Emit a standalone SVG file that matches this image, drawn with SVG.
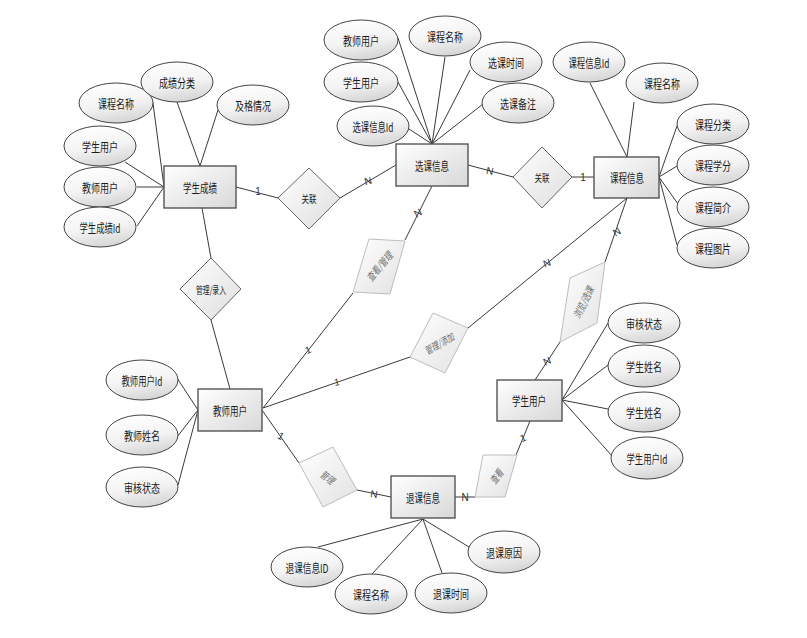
<svg xmlns="http://www.w3.org/2000/svg" width="807" height="638" viewBox="0 0 807 638">
<defs>
<linearGradient id="gEnt" x1="0" y1="0" x2="1" y2="1">
<stop offset="0" stop-color="#ffffff"/><stop offset="1" stop-color="#d8d8d8"/>
</linearGradient>
<linearGradient id="gEll" x1="0.3" y1="0" x2="0.6" y2="1">
<stop offset="0" stop-color="#ffffff"/><stop offset="0.55" stop-color="#f3f3f3"/><stop offset="1" stop-color="#d4d4d4"/>
</linearGradient>
<linearGradient id="gRel" x1="0" y1="0" x2="1" y2="1">
<stop offset="0" stop-color="#ffffff"/><stop offset="1" stop-color="#dedede"/>
</linearGradient>
<linearGradient id="gSk" x1="0" y1="0" x2="1" y2="1">
<stop offset="0" stop-color="#ffffff"/><stop offset="1" stop-color="#e2e2e2"/>
</linearGradient>
<style>
.ent{fill:url(#gEnt);stroke:#555;stroke-width:1.4}
.ell{fill:url(#gEll);stroke:#444;stroke-width:1}
.rel{fill:url(#gRel);stroke:#666;stroke-width:1}
.sk{fill:url(#gSk);stroke:#bdbdbd;stroke-width:1}
.t{font-family:"Noto Sans CJK SC","Liberation Sans",sans-serif;font-size:12px;fill:#1a1a1a;text-anchor:middle;dominant-baseline:central}
.tr{font-family:"Noto Sans CJK SC","Liberation Sans",sans-serif;font-size:10px;fill:#1a1a1a;text-anchor:middle;dominant-baseline:central}
.ts{font-family:"Noto Sans CJK SC","Liberation Sans",sans-serif;font-size:10px;fill:#6e6e6e;font-style:italic;text-anchor:middle;dominant-baseline:central}
.c{font-family:"Liberation Sans",sans-serif;font-size:10px;fill:#333;text-anchor:middle;dominant-baseline:central}
.ln{stroke:#3a3a3a;stroke-width:1;fill:none}
</style>
</defs>
<rect width="807" height="638" fill="#ffffff"/>
<g id="connectors">
<line class="ln" x1="153" y1="103" x2="164" y2="187"/>
<line class="ln" x1="125" y1="162" x2="164" y2="187"/>
<line class="ln" x1="137" y1="187" x2="164" y2="187"/>
<line class="ln" x1="137" y1="226" x2="164" y2="187"/>
<line class="ln" x1="177" y1="102" x2="200" y2="166"/>
<line class="ln" x1="218" y1="110" x2="200" y2="166"/>
<line class="ln" x1="202" y1="208" x2="211" y2="258"/>
<line class="ln" x1="211" y1="320" x2="230" y2="389"/>
<line class="ln" x1="236" y1="187" x2="278" y2="198"/>
<line class="ln" x1="340" y1="198" x2="396" y2="165"/>
<line class="ln" x1="398" y1="38" x2="432" y2="144"/>
<line class="ln" x1="398" y1="82" x2="432" y2="144"/>
<line class="ln" x1="409" y1="129" x2="432" y2="144"/>
<line class="ln" x1="445" y1="57" x2="432" y2="144"/>
<line class="ln" x1="470" y1="70" x2="432" y2="144"/>
<line class="ln" x1="483" y1="104" x2="432" y2="144"/>
<line class="ln" x1="468" y1="165" x2="513" y2="177"/>
<line class="ln" x1="572" y1="177" x2="594" y2="177"/>
<line class="ln" x1="590" y1="83" x2="627" y2="157"/>
<line class="ln" x1="634" y1="102" x2="627" y2="157"/>
<line class="ln" x1="659" y1="177" x2="677" y2="126"/>
<line class="ln" x1="659" y1="177" x2="677" y2="166"/>
<line class="ln" x1="659" y1="177" x2="678" y2="204"/>
<line class="ln" x1="659" y1="177" x2="677" y2="245"/>
<line class="ln" x1="432" y1="186" x2="405" y2="240"/>
<line class="ln" x1="353" y1="293" x2="263" y2="408"/>
<line class="ln" x1="263" y1="408" x2="410" y2="357"/>
<line class="ln" x1="468" y1="328" x2="627" y2="198"/>
<line class="ln" x1="605" y1="262" x2="627" y2="198"/>
<line class="ln" x1="560" y1="342" x2="535" y2="380"/>
<line class="ln" x1="562" y1="400" x2="608" y2="323"/>
<line class="ln" x1="562" y1="400" x2="608" y2="365"/>
<line class="ln" x1="562" y1="400" x2="608" y2="409"/>
<line class="ln" x1="562" y1="400" x2="613" y2="457"/>
<line class="ln" x1="530" y1="421" x2="516" y2="455"/>
<line class="ln" x1="455" y1="497" x2="475" y2="497"/>
<line class="ln" x1="262" y1="410" x2="299" y2="463"/>
<line class="ln" x1="357" y1="490" x2="391" y2="497"/>
<line class="ln" x1="423" y1="519" x2="318" y2="547"/>
<line class="ln" x1="423" y1="519" x2="372" y2="574"/>
<line class="ln" x1="423" y1="519" x2="442" y2="573"/>
<line class="ln" x1="423" y1="519" x2="469" y2="547"/>
<line class="ln" x1="177" y1="378" x2="198" y2="410"/>
<line class="ln" x1="177" y1="437" x2="198" y2="410"/>
<line class="ln" x1="178" y1="485" x2="198" y2="410"/>
<text class="c" x="258" y="191">1</text>
<text class="c" transform="translate(368,181) rotate(-15)">N</text>
<text class="c" transform="translate(490,171) rotate(10)">N</text>
<text class="c" x="583" y="177">1</text>
<text class="c" transform="translate(418,213) rotate(-30)">N</text>
<text class="c" transform="translate(308,350) rotate(-25)">1</text>
<text class="c" transform="translate(337,382) rotate(-10)">1</text>
<text class="c" transform="translate(547,263) rotate(-20)">N</text>
<text class="c" transform="translate(617,232) rotate(-30)">N</text>
<text class="c" transform="translate(547,361) rotate(-25)">N</text>
<text class="c" transform="translate(523,438) rotate(-25)">1</text>
<text class="c" transform="translate(281,436) rotate(30)">1</text>
<text class="c" transform="translate(374,494) rotate(8)">N</text>
<text class="c" x="465" y="497">N</text>
</g>
<g id="xscj"><rect class="ent" x="164" y="166" width="72" height="42"/><text class="t" x="200" y="187" textLength="34" lengthAdjust="spacingAndGlyphs">学生成绩</text></g>
<g id="xkxx"><rect class="ent" x="396" y="144" width="72" height="42"/><text class="t" x="432" y="165" textLength="34" lengthAdjust="spacingAndGlyphs">选课信息</text></g>
<g id="kcxx"><rect class="ent" x="594" y="157" width="65" height="41"/><text class="t" x="627" y="177" textLength="34" lengthAdjust="spacingAndGlyphs">课程信息</text></g>
<g id="jsyh"><rect class="ent" x="198" y="389" width="64" height="42"/><text class="t" x="230" y="410" textLength="34" lengthAdjust="spacingAndGlyphs">教师用户</text></g>
<g id="xsyh"><rect class="ent" x="497" y="380" width="65" height="41"/><text class="t" x="529" y="400" textLength="34" lengthAdjust="spacingAndGlyphs">学生用户</text></g>
<g id="tkxx"><rect class="ent" x="391" y="476" width="64" height="42"/><text class="t" x="423" y="497" textLength="34" lengthAdjust="spacingAndGlyphs">退课信息</text></g>
<g id="rel-gllr"><polygon class="rel" points="211,258 241,289 211,320 180,289"/><text class="tr" x="211" y="289" textLength="30" lengthAdjust="spacingAndGlyphs">管理/录入</text></g>
<g id="rel-gl1"><polygon class="rel" points="309,168 340,198 309,229 278,198"/><text class="tr" x="309" y="198" textLength="15" lengthAdjust="spacingAndGlyphs">关联</text></g>
<g id="rel-gl2"><polygon class="rel" points="542,147 572,177 542,208 513,177"/><text class="tr" x="542" y="177" textLength="15" lengthAdjust="spacingAndGlyphs">关联</text></g>
<g id="rel-ckgl"><polygon class="sk" points="369,239 405,241 390,294 353,292"/><text class="ts" transform="translate(379,266) rotate(-50)" textLength="34" lengthAdjust="spacingAndGlyphs">查看/管理</text></g>
<g id="rel-gltj"><polygon class="sk" points="433,313 468,328 445,373 410,357"/><text class="ts" transform="translate(439,343) rotate(-29)" textLength="32" lengthAdjust="spacingAndGlyphs">管理/添加</text></g>
<g id="rel-llxk"><polygon class="sk" points="570,278 605,262 597,323 560,342"/><text class="ts" transform="translate(583,302) rotate(-64)" textLength="34" lengthAdjust="spacingAndGlyphs">浏览/选课</text></g>
<g id="rel-ck"><polygon class="sk" points="483,455 517,455 505,497 475,497"/><text class="ts" transform="translate(496,476) rotate(-52)" textLength="15" lengthAdjust="spacingAndGlyphs">查看</text></g>
<g id="rel-gl"><polygon class="sk" points="299,463 333,447 357,490 323,507"/><text class="ts" transform="translate(328,477) rotate(37)" textLength="15" lengthAdjust="spacingAndGlyphs">管理</text></g>
<g id="a-xscj-kcmc"><ellipse class="ell" cx="116" cy="103" rx="37" ry="20"/><text class="t" x="116" y="103" textLength="36" lengthAdjust="spacingAndGlyphs">课程名称</text></g>
<g id="a-xscj-cjfl"><ellipse class="ell" cx="177" cy="82" rx="36" ry="20"/><text class="t" x="177" y="82" textLength="36" lengthAdjust="spacingAndGlyphs">成绩分类</text></g>
<g id="a-xscj-jgqk"><ellipse class="ell" cx="253" cy="105" rx="36" ry="20"/><text class="t" x="253" y="105" textLength="36" lengthAdjust="spacingAndGlyphs">及格情况</text></g>
<g id="a-xscj-xsyh"><ellipse class="ell" cx="100" cy="146" rx="36" ry="20"/><text class="t" x="100" y="146" textLength="36" lengthAdjust="spacingAndGlyphs">学生用户</text></g>
<g id="a-xscj-jsyh"><ellipse class="ell" cx="100" cy="187" rx="36" ry="20"/><text class="t" x="100" y="187" textLength="36" lengthAdjust="spacingAndGlyphs">教师用户</text></g>
<g id="a-xscj-id"><ellipse class="ell" cx="100" cy="227" rx="36" ry="20"/><text class="t" x="100" y="227" textLength="41" lengthAdjust="spacingAndGlyphs">学生成绩Id</text></g>
<g id="a-xkxx-jsyh"><ellipse class="ell" cx="361" cy="40" rx="37" ry="20"/><text class="t" x="361" y="40" textLength="36" lengthAdjust="spacingAndGlyphs">教师用户</text></g>
<g id="a-xkxx-kcmc"><ellipse class="ell" cx="445" cy="36" rx="36" ry="20"/><text class="t" x="445" y="36" textLength="36" lengthAdjust="spacingAndGlyphs">课程名称</text></g>
<g id="a-xkxx-xksj"><ellipse class="ell" cx="506" cy="62" rx="36" ry="20"/><text class="t" x="506" y="62" textLength="36" lengthAdjust="spacingAndGlyphs">选课时间</text></g>
<g id="a-xkxx-xsyh"><ellipse class="ell" cx="361" cy="82" rx="37" ry="20"/><text class="t" x="361" y="82" textLength="36" lengthAdjust="spacingAndGlyphs">学生用户</text></g>
<g id="a-xkxx-xkbz"><ellipse class="ell" cx="518" cy="103" rx="36" ry="20"/><text class="t" x="518" y="103" textLength="36" lengthAdjust="spacingAndGlyphs">选课备注</text></g>
<g id="a-xkxx-id"><ellipse class="ell" cx="373" cy="126" rx="36" ry="20"/><text class="t" x="373" y="126" textLength="41" lengthAdjust="spacingAndGlyphs">选课信息Id</text></g>
<g id="a-kcxx-id"><ellipse class="ell" cx="589" cy="62" rx="36" ry="20"/><text class="t" x="589" y="62" textLength="41" lengthAdjust="spacingAndGlyphs">课程信息Id</text></g>
<g id="a-kcxx-kcmc"><ellipse class="ell" cx="662" cy="83" rx="36" ry="20"/><text class="t" x="662" y="83" textLength="36" lengthAdjust="spacingAndGlyphs">课程名称</text></g>
<g id="a-kcxx-kcfl"><ellipse class="ell" cx="713" cy="124" rx="36" ry="20"/><text class="t" x="713" y="124" textLength="36" lengthAdjust="spacingAndGlyphs">课程分类</text></g>
<g id="a-kcxx-kcxf"><ellipse class="ell" cx="713" cy="165" rx="36" ry="20"/><text class="t" x="713" y="165" textLength="36" lengthAdjust="spacingAndGlyphs">课程学分</text></g>
<g id="a-kcxx-kcjj"><ellipse class="ell" cx="713" cy="207" rx="36" ry="20"/><text class="t" x="713" y="207" textLength="36" lengthAdjust="spacingAndGlyphs">课程简介</text></g>
<g id="a-kcxx-kctp"><ellipse class="ell" cx="713" cy="248" rx="36" ry="20"/><text class="t" x="713" y="248" textLength="36" lengthAdjust="spacingAndGlyphs">课程图片</text></g>
<g id="a-xsyh-shzt"><ellipse class="ell" cx="644" cy="323" rx="36" ry="20"/><text class="t" x="644" y="323" textLength="36" lengthAdjust="spacingAndGlyphs">审核状态</text></g>
<g id="a-xsyh-xsxm1"><ellipse class="ell" cx="644" cy="366" rx="36" ry="21"/><text class="t" x="644" y="366" textLength="36" lengthAdjust="spacingAndGlyphs">学生姓名</text></g>
<g id="a-xsyh-xsxm2"><ellipse class="ell" cx="644" cy="412" rx="36" ry="20"/><text class="t" x="644" y="412" textLength="36" lengthAdjust="spacingAndGlyphs">学生姓名</text></g>
<g id="a-xsyh-id"><ellipse class="ell" cx="647" cy="458" rx="36" ry="21"/><text class="t" x="647" y="458" textLength="41" lengthAdjust="spacingAndGlyphs">学生用户Id</text></g>
<g id="a-jsyh-id"><ellipse class="ell" cx="142" cy="380" rx="36" ry="20"/><text class="t" x="142" y="380" textLength="41" lengthAdjust="spacingAndGlyphs">教师用户Id</text></g>
<g id="a-jsyh-jsxm"><ellipse class="ell" cx="142" cy="435" rx="36" ry="20"/><text class="t" x="142" y="435" textLength="36" lengthAdjust="spacingAndGlyphs">教师姓名</text></g>
<g id="a-jsyh-shzt"><ellipse class="ell" cx="142" cy="487" rx="36" ry="20"/><text class="t" x="142" y="487" textLength="36" lengthAdjust="spacingAndGlyphs">审核状态</text></g>
<g id="a-tkxx-id"><ellipse class="ell" cx="307" cy="567" rx="36" ry="20"/><text class="t" x="307" y="567" textLength="43" lengthAdjust="spacingAndGlyphs">退课信息ID</text></g>
<g id="a-tkxx-kcmc"><ellipse class="ell" cx="371" cy="594" rx="36" ry="20"/><text class="t" x="371" y="594" textLength="36" lengthAdjust="spacingAndGlyphs">课程名称</text></g>
<g id="a-tkxx-tksj"><ellipse class="ell" cx="451" cy="593" rx="36" ry="20"/><text class="t" x="451" y="593" textLength="36" lengthAdjust="spacingAndGlyphs">退课时间</text></g>
<g id="a-tkxx-tkyy"><ellipse class="ell" cx="504" cy="552" rx="36" ry="21"/><text class="t" x="504" y="552" textLength="36" lengthAdjust="spacingAndGlyphs">退课原因</text></g>
</svg>
